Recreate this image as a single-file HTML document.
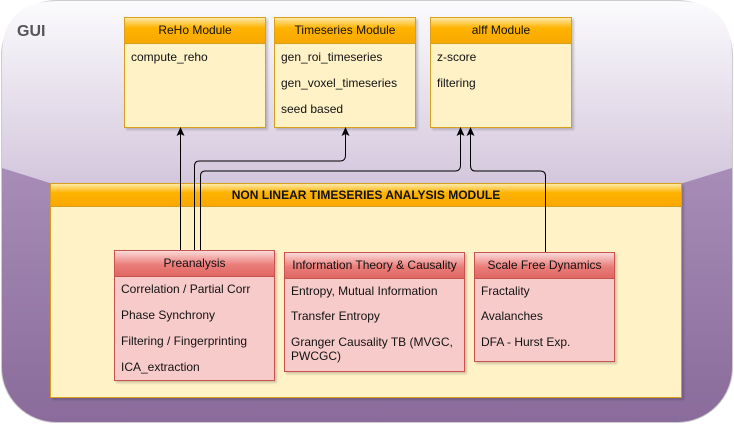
<!DOCTYPE html>
<html><head><style>
body{margin:0;width:734px;height:425px;position:relative;overflow:hidden;background:#fff;font-family:"Liberation Sans",sans-serif;}
.box{position:absolute;background:#fff2c7;border:1px solid #d6a01c;box-shadow:2px 2px 2px rgba(0,0,0,.18);}
.hd{height:25px;line-height:25px;text-align:center;font-size:12px;color:#111;background:linear-gradient(#ffe9a8,#ffb300 40%,#f8a800);border-bottom:1px solid #d6a01c;}
.r{position:absolute;font-size:12px;color:#111;left:6px;}
.red{background:#f8cbcb;border-color:#c8524e;}
.red .hd{background:linear-gradient(#fbd9d7,#ea7d7a 55%,#e06762);border-bottom-color:#c8524e;}
</style></head><body>
<svg width="734" height="425" style="position:absolute;left:0;top:0">
<defs>
<linearGradient id="g" x1="0" y1="0" x2="0" y2="1">
<stop offset="0" stop-color="#b9a3c8"/><stop offset="1" stop-color="#8a6b9b"/></linearGradient>
<linearGradient id="h" x1="0" y1="0" x2="0" y2="1">
<stop offset="0" stop-color="#fbfbfd"/><stop offset="1" stop-color="#d4c7dd"/></linearGradient>
</defs>
<rect x="1.5" y="0.5" width="731" height="422" rx="55" fill="url(#g)" stroke="#ccc"/>
<path d="M2,168 L50,183 L683,183 L732,168 L732,56 Q732,1 677,1 L57,1 Q2,1 2,56 Z" fill="url(#h)"/>
<text x="17" y="36" font-family="Liberation Sans" font-weight="bold" font-size="16" fill="#555">GUI</text>
</svg>
<div class="box" style="left:124px;top:17px;width:140px;height:109px"><div class="hd">ReHo Module</div><div class="r" style="top:32px">compute_reho</div></div>
<div class="box" style="left:274px;top:17px;width:140px;height:109px"><div class="hd">Timeseries Module</div><div class="r" style="top:32px">gen_roi_timeseries</div><div class="r" style="top:58px">gen_voxel_timeseries</div><div class="r" style="top:84px">seed based</div></div>
<div class="box" style="left:430px;top:17px;width:140px;height:109px"><div class="hd">alff Module</div><div class="r" style="top:32px">z-score</div><div class="r" style="top:58px">filtering</div></div>
<div class="box" style="left:50px;top:183px;width:630px;height:213px"><div class="hd" style="height:22px;line-height:22px;font-weight:bold">NON LINEAR TIMESERIES ANALYSIS MODULE</div></div>
<div class="box red" style="left:114px;top:250px;width:159px;height:129px"><div class="hd">Preanalysis</div><div class="r" style="top:31px">Correlation / Partial Corr</div><div class="r" style="top:57px">Phase Synchrony</div><div class="r" style="top:83px">Filtering / Fingerprinting</div><div class="r" style="top:109px">ICA_extraction</div></div>
<div class="box red" style="left:284px;top:252px;width:179px;height:118px"><div class="hd">Information Theory &amp; Causality</div><div class="r" style="top:31px">Entropy, Mutual Information</div><div class="r" style="top:56px">Transfer Entropy</div><div class="r" style="top:82px;line-height:14px">Granger Causality TB (MVGC,<br>PWCGC)</div></div>
<div class="box red" style="left:474px;top:252px;width:139px;height:108px"><div class="hd">Scale Free Dynamics</div><div class="r" style="top:31px">Fractality</div><div class="r" style="top:56px">Avalanches</div><div class="r" style="top:82px">DFA - Hurst Exp.</div></div>
<svg width="734" height="425" style="position:absolute;left:0;top:0" fill="none" stroke="#000" stroke-width="1">
<path d="M180.5,250 V133"/>
<path d="M194.5,250 V166 Q194.5,161 199.5,161 H340 Q345.5,161 345.5,155 V133"/>
<path d="M200.5,250 V176 Q200.5,171 205.5,171 H455 Q460.5,171 460.5,165 V133"/>
<path d="M545.5,252 V176 Q545.5,171 540,171 H475 Q470.5,171 470.5,165 V133"/>
<g fill="#000" stroke="none">
<path d="M176.5,136 L180.5,127 L184.5,136 L180.5,134 Z"/>
<path d="M341.5,136 L345.5,127 L349.5,136 L345.5,134 Z"/>
<path d="M456.5,136 L460.5,127 L464.5,136 L460.5,134 Z"/>
<path d="M466.5,136 L470.5,127 L474.5,136 L470.5,134 Z"/>
</g>
</svg>
</body></html>
